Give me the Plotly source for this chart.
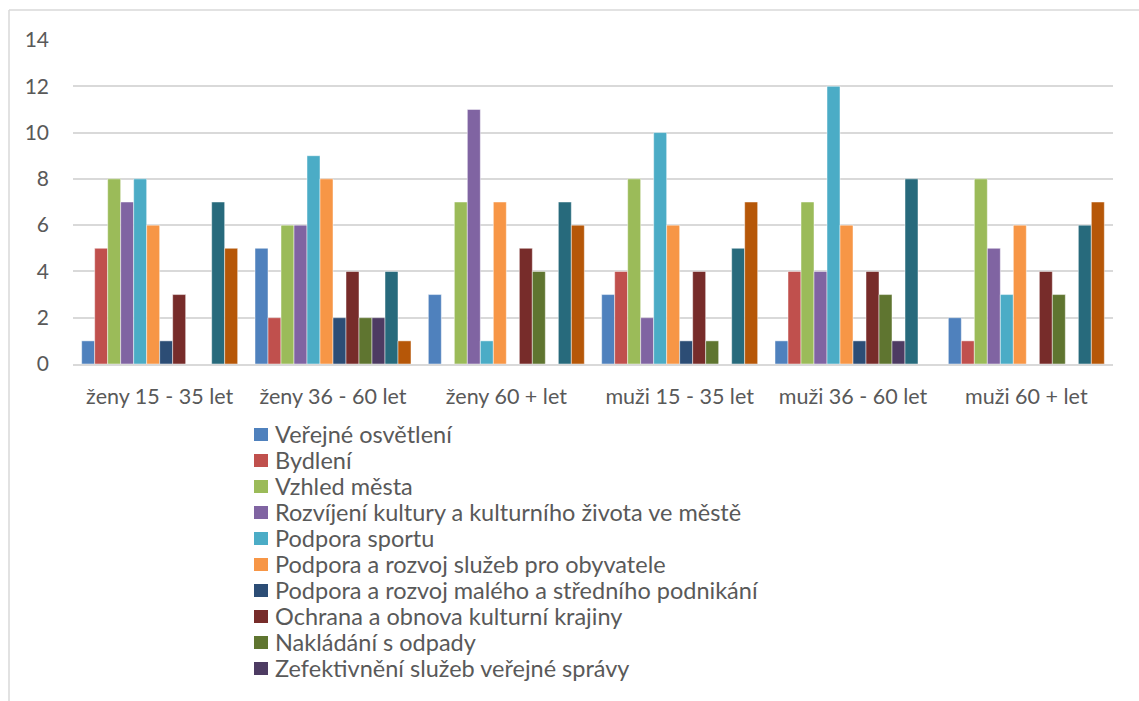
import plotly.graph_objects as go

categories = ["ženy 15 - 35 let", "ženy 36 - 60 let", "ženy 60 + let",
              "muži 15 - 35 let", "muži 36 - 60 let", "muži 60 + let"]

series_names = [
    "Veřejné osvětlení",
    "Bydlení",
    "Vzhled města",
    "Rozvíjení kultury a kulturního života ve městě",
    "Podpora sportu",
    "Podpora a rozvoj služeb pro obyvatele",
    "Podpora a rozvoj malého a středního podnikání",
    "Ochrana a obnova kulturní krajiny",
    "Nakládání s odpady",
    "Zefektivnění služeb veřejné správy",
    "Série 11",
    "Série 12",
]

# values per series, one entry per category
verejne_osvetleni = [1, 5, 3, 3, 1, 2]
bydleni = [5, 2, 0, 4, 4, 1]
vzhled_mesta = [8, 6, 7, 8, 7, 8]
kultura = [7, 6, 11, 2, 4, 5]
sport = [8, 9, 1, 10, 12, 3]
sluzby_obyvatelum = [6, 8, 7, 6, 6, 6]
podnikani = [1, 2, 0, 1, 1, 0]
krajina = [3, 4, 5, 4, 4, 4]
odpady = [0, 2, 4, 1, 3, 3]
sprava = [0, 2, 0, 0, 1, 0]
serie_11 = [7, 4, 7, 5, 8, 6]
serie_12 = [5, 1, 6, 7, 0, 7]

values = [verejne_osvetleni, bydleni, vzhled_mesta, kultura, sport,
          sluzby_obyvatelum, podnikani, krajina, odpady, sprava,
          serie_11, serie_12]

colors = ["#4F81BD", "#C0504D", "#9BBB59", "#8064A2", "#4BACC6", "#F79646",
          "#2C4D75", "#772C2A", "#5F7530", "#4D3B62", "#276A7C", "#B65708"]

FONT = "Lato"
TEXT = "#595959"
GRID = "#D9D9D9"

W, H = 1139, 701
ML, MR, MT, MB = 73, 26, 40, 337
PW, PH = W - ML - MR, H - MT - MB


def px_x(x):
    return (x - ML) / PW


def px_y(y):
    return (H - MB - y) / PH


fig = go.Figure()
for name, vals, col in zip(series_names, values, colors):
    fig.add_trace(go.Bar(
        x=categories, y=vals, name=name,
        marker=dict(color=col, line=dict(color="rgba(255,255,255,0.6)", width=0.8)),
        showlegend=False,
    ))

# legend block below the plot: square swatch + label, one row per series
shapes = []
annotations = []
row_top, row_step = 435, 26
for i, (name, col) in enumerate(zip(series_names[:10], colors[:10])):
    yc = row_top + i * row_step
    shapes.append(dict(type="rect", xref="paper", yref="paper",
                       x0=px_x(254), x1=px_x(268), y0=px_y(yc + 6), y1=px_y(yc - 7),
                       fillcolor=col, line=dict(width=0)))
    annotations.append(dict(xref="paper", yref="paper", x=px_x(273), y=px_y(yc - 1),
                            xanchor="left", yanchor="middle", showarrow=False,
                            text=name, font=dict(size=23.5, color=TEXT, family=FONT)))

# chart frame (top and left edges)
shapes += [
    dict(type="line", xref="paper", yref="paper",
         x0=px_x(9), x1=1.2, y0=px_y(10), y1=px_y(10),
         line=dict(color=GRID, width=1.5)),
    dict(type="line", xref="paper", yref="paper",
         x0=px_x(9), x1=px_x(9), y0=-1.2, y1=px_y(10),
         line=dict(color=GRID, width=1.5)),
]

fig.update_layout(
    width=W, height=H,
    barmode="group", bargap=0.1, bargroupgap=0,
    paper_bgcolor="white", plot_bgcolor="white",
    margin=dict(l=ML, r=MR, t=MT, b=MB),
    font=dict(family=FONT, size=21, color=TEXT),
    xaxis=dict(showgrid=False, showline=True, linecolor=GRID, linewidth=2,
               ticks="", ticklabelstandoff=12, tickfont=dict(size=21.5)),
    yaxis=dict(range=[0, 14], dtick=2, showgrid=True, gridcolor=GRID, gridwidth=1.5,
               zeroline=False, showline=False, ticks="", ticklabelstandoff=23,
               tickfont=dict(size=21)),
    showlegend=False,
    shapes=shapes,
    annotations=annotations,
)

fig.write_html("out.html")
